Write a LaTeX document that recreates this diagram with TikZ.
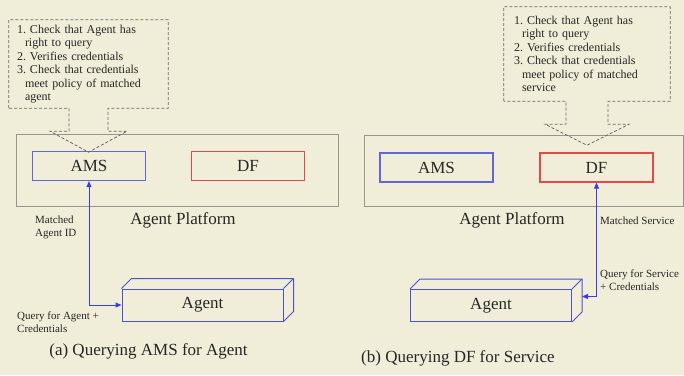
\documentclass[tikz,border=0pt]{standalone}
\usepackage{fontspec}
\setmainfont{Liberation Serif}
\usepackage{xcolor}
\definecolor{bgcream}{RGB}{240, 238, 216}
\definecolor{amsblue}{RGB}{100, 100, 225}
\definecolor{agblue}{RGB}{80, 80, 215}
\definecolor{lnkblue}{RGB}{60, 60, 225}
\definecolor{dfred}{RGB}{228, 72, 72}
\definecolor{platgray}{RGB}{150, 150, 140}
\definecolor{dashgray}{RGB}{105, 105, 100}
\usepackage{tikz}
\usetikzlibrary{arrows.meta, positioning, calc}

\newcommand{\chkind}{\leavevmode\kern8pt}

\begin{document}
\begin{tikzpicture}[>={Triangle[length=6pt,width=5pt]}, x=1pt, y=-1pt,
    big/.style={font=\fontsize{17}{17}\selectfont, text=black!85},
    small/.style={font=\fontsize{11}{13}\selectfont, align=left, anchor=west, inner sep=0pt, text=black!85},
    plat/.style={draw=platgray, line width=0.9pt},
    svc/.style={big, line width=1.2pt, minimum width=113pt, minimum height=29pt},
    agent/.style={big, draw=agblue, line width=1pt, minimum width=161pt, minimum height=32pt},
    agentline/.style={draw=agblue, line width=1pt, line join=round},
    chk/.style={font=\fontsize{12}{13.5}\selectfont, align=left, text=black!85},
    chkline/.style={draw=dashgray, line width=0.8pt, dash pattern=on 3pt off 2pt},
    link/.style={draw=lnkblue, line width=1pt}]

    % Background
    \useasboundingbox (0,0) rectangle (684,375);
    \fill[bgcream] (0,0) rectangle (684,375);

    % Agent platforms
    \draw[plat] (16,134) rectangle (338,206);
    \draw[plat] (364,135) rectangle (683,206);
    \node[big] (platA) at (183,220) {Agent Platform};
    \node[big] (platB) at (512,220) {Agent Platform};

    % AMS and DF
    \node[svc, draw=amsblue] (amsA) at (89,166) {AMS};
    \node[svc, draw=dfred] (dfA) at (248,166) {DF};
    \node[svc, draw=amsblue] (amsB) at (436.5,167.5) {AMS};
    \node[svc, draw=dfred] (dfB) at (596.5,167.5) {DF};

    % Agents (boxes with depth)
    \node[agent] (agentA) at (202.5,305) {Agent};
    \node[agent] (agentB) at (491,305.5) {Agent};
    \foreach \a in {agentA, agentB} {
        \draw[agentline] (\a.north west) -- ++(10,-10) -- ($(\a.north east)+(10,-10)$)
            -- ($(\a.south east)+(10,-10)$) -- (\a.south east);
        \draw[agentline] (\a.north east) -- ++(10,-10);
    }

    % Checks
    \node[chk, text width=143pt, inner xsep=8pt, minimum height=88pt] (chkA) at (88.5,64) {%
        1.~Check that Agent has\\%
        \chkind right to query\\%
        2.~Verifies credentials\\%
        3.~Check that credentials\\%
        \chkind meet policy of matched\\%
        \chkind agent};
    \node[chk, text width=146pt, inner xsep=10pt, minimum height=94pt] (chkB) at (587,54) {%
        1.~Check that Agent has\\%
        \chkind right to query\\%
        2.~Verifies credentials\\%
        3.~Check that credentials\\%
        \chkind meet policy of matched\\%
        \chkind service};
    \foreach \c/\s/\f in {chkA/19.5/38.5, chkB/21/42} {
        \draw[chkline] (\c.south west) -- (\c.north west) -- (\c.north east) -- (\c.south east)
            -- ($(\c.south)+(\s,0)$) -- ($(\c.south)+(\s,23)$) -- ($(\c.south)+(\f,23)$)
            -- ($(\c.south)+(0,44)$) -- ($(\c.south)+(-\f,23)$) -- ($(\c.south)+(-\s,23)$)
            -- ($(\c.south)+(-\s,0)$) -- cycle;
    }

    % Queries
    \draw[link, <->] (amsA.south) |- (agentA.west);
    \coordinate (faceB) at ($(agentB.east)+(10,-9)$);
    \draw[link, <->] (dfB.south) |- (faceB);

    \node[small] (lblA1) at (35,227) {Matched\\Agent ID};
    \node[small] (lblA2) at (17,322.5) {Query for Agent +\\Credentials};
    \node[small] (lblB1) at (600,221) {Matched Service};
    \node[small] (lblB2) at (600,280) {Query for Service\\+ Credentials};

    % Captions
    \node[big] (capA) at (148.5,351) {(a) Querying AMS for Agent};
    \node[big] (capB) at (458,358) {(b) Querying DF for Service};
\end{tikzpicture}
\end{document}
